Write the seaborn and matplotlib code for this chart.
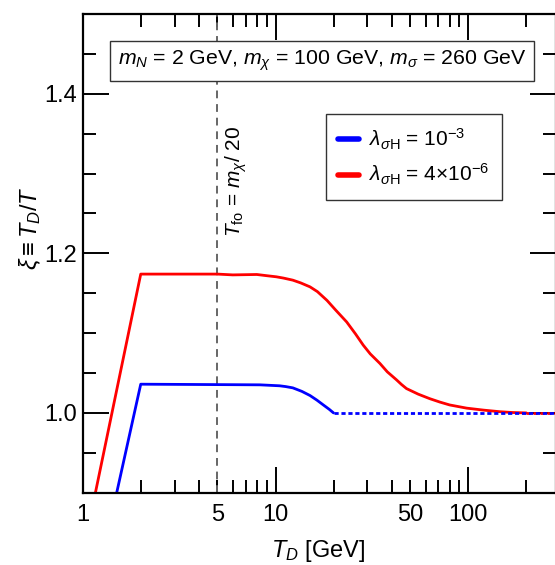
import matplotlib
matplotlib.use('Agg')
import matplotlib.pyplot as plt
import matplotlib.ticker as mticker
import numpy as np
import pandas as pd
import seaborn as sns

# 数据
red_x = [1.164, 2.0, 5.0, 6.0, 8.0, 9.0, 10.1, 11.0, 12.3, 13.5, 15.1, 16.5, 18.5, 20.5, 23.4,
         26.0, 28.5, 31.0, 34.8, 38.0, 42.4, 45.0, 47.8, 55.0, 63.2, 71.2, 80.0, 98.0, 120.0,
         146.0, 170.0, 200.0]
red_y = [0.9, 1.174, 1.174, 1.173, 1.1735, 1.172, 1.1706, 1.169, 1.1664, 1.163, 1.158, 1.152,
         1.141, 1.129, 1.114, 1.099, 1.085, 1.074, 1.062, 1.0515, 1.0415, 1.0357, 1.0305, 1.0235,
         1.0178, 1.0136, 1.010, 1.006, 1.0035, 1.0015, 1.0005, 1.000]
blue_x = [1.501, 2.0, 8.3, 10.5, 11.3, 12.3, 13.7, 15.1, 16.4, 17.7, 19.0, 20.0]
blue_y = [0.9, 1.036, 1.0352, 1.034, 1.033, 1.0314, 1.027, 1.0218, 1.016, 1.010, 1.0045, 1.000]
tail_x = [20.0, 285.0]
tail_y = [1.0, 1.0]
red_tail_x = [200.0, 285.0]
x_fo = 5.0

labels = [r'$\lambda_{\sigma\mathrm{H}}$ = 10$^{-3}$', r'$\lambda_{\sigma\mathrm{H}}$ = 4$\times$10$^{-6}$']
box_text = r'$m_N$ = 2 GeV, $m_\chi$ = 100 GeV, $m_\sigma$ = 260 GeV'

sns.set_style('ticks')
plt.rcParams['font.family'] = ['Liberation Sans', 'DejaVu Sans']
plt.rcParams['mathtext.fontset'] = 'custom'
plt.rcParams['mathtext.rm'] = 'Liberation Sans'
plt.rcParams['mathtext.it'] = 'Liberation Sans:italic'
plt.rcParams['mathtext.bf'] = 'Liberation Sans:bold'
plt.rcParams['text.color'] = 'black'
plt.rcParams['axes.labelcolor'] = 'black'
plt.rcParams['axes.edgecolor'] = 'black'
plt.rcParams['xtick.color'] = 'black'
plt.rcParams['ytick.color'] = 'black'

fig = plt.figure(figsize=(5.55, 5.65), dpi=100)
ax = fig.add_axes([82.7 / 555, 1 - 492.7 / 565, (556 - 82.7) / 555, (492.7 - 14) / 565])

df_blue = pd.DataFrame({'x': blue_x, 'y': blue_y})
df_red = pd.DataFrame({'x': red_x, 'y': red_y})

ax.axvline(x_fo, color='#666666', lw=1.4, ls=(0, (4, 3)), zorder=1)
sns.lineplot(data=df_blue, x='x', y='y', ax=ax, color='#0000ff', lw=2, label=labels[0],
             sort=False, estimator=None)
sns.lineplot(data=df_red, x='x', y='y', ax=ax, color='#ff0000', lw=2, label=labels[1],
             sort=False, estimator=None)
ax.plot(red_tail_x, tail_y, color='#ff0000', lw=2, ls=(0, (1.5, 1.0)))
ax.plot(tail_x, tail_y, color='#0000ff', lw=2, ls=(0, (1.5, 1.0)))

ax.set_xscale('log')
ax.set_xlim(1, 285)
ax.set_ylim(0.9, 1.5)

ax.xaxis.set_major_locator(mticker.FixedLocator([1, 10, 100]))
ax.xaxis.set_major_formatter(mticker.FixedFormatter(['1', '10', '100']))
minors = [m * 10 ** k for k in range(0, 3) for m in range(2, 10)]
ax.xaxis.set_minor_locator(mticker.FixedLocator(minors))
ax.xaxis.set_minor_formatter(mticker.FixedFormatter(
    ['5' if v == 5 else ('50' if v == 50 else '') for v in minors]))
ax.yaxis.set_major_locator(mticker.MultipleLocator(0.2))
ax.yaxis.set_minor_locator(mticker.MultipleLocator(0.05))
ax.yaxis.set_major_formatter(mticker.FormatStrFormatter('%.1f'))

ax.tick_params(which='both', direction='in', top=True, right=True, labelsize=17, width=1.4)
ax.tick_params(which='major', length=19)
ax.tick_params(which='minor', length=9.5)
ax.tick_params(axis='x', which='both', pad=8)
ax.tick_params(axis='y', which='both', pad=4)
for s in ax.spines.values():
    s.set_linewidth(1.6)

ax.set_xlabel(r'$T_D$ [GeV]', fontsize=17)
ax.set_ylabel(r'$\xi \equiv T_D/T$', fontsize=17)
ax.xaxis.set_label_coords(0.497, -0.095)
ax.yaxis.set_label_coords(-0.083, 0.553)

ax.text(0.5056, 0.9018, box_text, transform=ax.transAxes, ha='center', va='center', fontsize=15.3,
        bbox=dict(boxstyle='square,pad=0.35', fc='white', ec='#333333', lw=1))
ax.text(0.324, 0.651, r'$T_{\mathrm{fo}}$ = $m_\chi$/ 20', transform=ax.transAxes, rotation=90,
        ha='center', va='center', fontsize=15)

leg = ax.legend(loc='upper left', bbox_to_anchor=(0.513, 0.791), borderaxespad=0, fontsize=15,
                frameon=True, fancybox=False, framealpha=1, edgecolor='#333333',
                handlelength=1.0, handletextpad=0.5, borderpad=0.6, labelspacing=0.5)
leg.get_frame().set_linewidth(1)
for h in leg.get_lines():
    h.set_linewidth(4)

fig.savefig('out.png', dpi=100)
